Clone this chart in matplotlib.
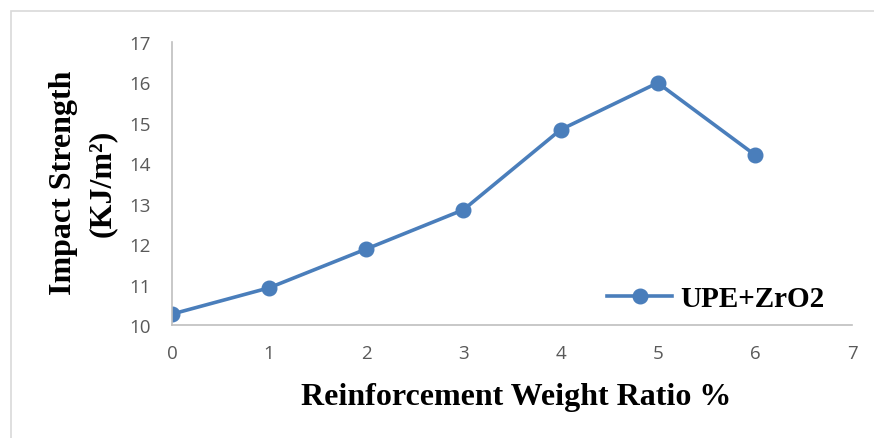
import matplotlib
matplotlib.use('Agg')
import matplotlib.pyplot as plt
from matplotlib.patches import Rectangle

# data
ratio = [0, 1, 2, 3, 4, 5, 6]
impact = [10.27, 10.92, 11.88, 12.85, 14.83, 15.99, 14.21]
series_name = 'UPE+ZrO2'
x_ticks = [0, 1, 2, 3, 4, 5, 6, 7]
y_ticks = [10, 11, 12, 13, 14, 15, 16, 17]

line_color = '#4A7EBB'
axis_color = '#BFBFBF'
tick_color = '#595959'
serif = ['Liberation Serif', 'DejaVu Serif']

fig = plt.figure(figsize=(8.74, 4.39), dpi=100)

# light chart-area frame
fig.patches.append(Rectangle((11 / 874, -0.1), 1.0, 1 - 12 / 439 + 0.1,
                             transform=fig.transFigure, fill=False,
                             edgecolor='#D9D9D9', linewidth=1.2))

ax = fig.add_axes([172 / 874, 1 - 326 / 439, 680 / 874, 283 / 439])
ax.plot(ratio, impact, '-o', color=line_color, linewidth=2.6,
        markersize=10.5, label=series_name)

ax.set_xlim(0, 7)
ax.set_ylim(10, 17)
ax.set_xticks(x_ticks)
ax.set_yticks(y_ticks)
ax.tick_params(length=0, labelsize=13.5, labelcolor=tick_color)
for side in ('top', 'right'):
    ax.spines[side].set_visible(False)
for side in ('left', 'bottom'):
    ax.spines[side].set_color(axis_color)
    ax.spines[side].set_linewidth(1.2)
for lbl in ax.get_xticklabels() + ax.get_yticklabels():
    lbl.set_fontfamily(['Open Sans', 'DejaVu Sans'])
ax.tick_params(axis='x', pad=14)
ax.tick_params(axis='y', pad=15)

fig.text(516 / 874, 1 - 398 / 439, 'Reinforcement Weight Ratio %',
         ha='center', va='center', fontsize=23, fontweight='bold',
         family=serif)
fig.text(63 / 874, 1 - 183 / 439, 'Impact Strength', rotation=90,
         ha='center', va='center', fontsize=23, fontweight='bold',
         family=serif)
fig.text(102 / 874, 1 - 183 / 439, '(KJ/m²)', rotation=90,
         ha='center', va='center', fontsize=23, fontweight='bold',
         family=serif)

leg = ax.legend(loc='center', bbox_to_anchor=(716 / 874, 1 - 300 / 439),
                bbox_transform=fig.transFigure, frameon=False,
                handlelength=2.2, handletextpad=0.3,
                prop={'family': serif, 'weight': 'bold', 'size': 21})

fig.savefig('out.png', dpi=100)
